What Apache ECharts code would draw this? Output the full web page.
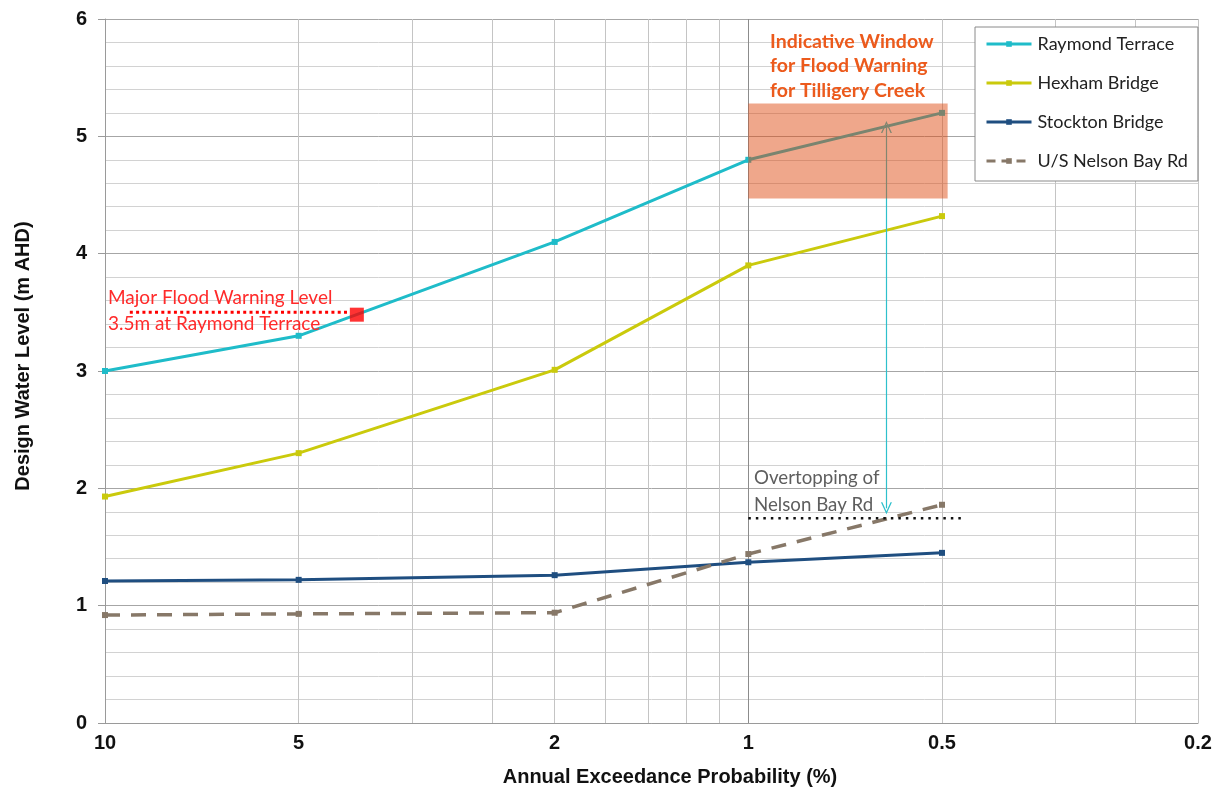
<!DOCTYPE html>
<html>
<head>
<meta charset="utf-8">
<title>Design Water Levels</title>
<script src="https://cdn.jsdelivr.net/npm/echarts@6/dist/echarts.min.js"></script>
<style>
	html, body { margin: 0; padding: 0; background: #fff; }
	#chart { width: 1218px; height: 792px; }
</style>
</head>
<body>
<div id="chart"></div>
<script>
// x values: annual exceedance probability (%)
const aep = [10, 5, 2, 1, 0.5];
const raymondTerrace = [3.0, 3.3, 4.1, 4.8, 5.2];
const hexhamBridge = [1.93, 2.3, 3.01, 3.9, 4.32];
const stocktonBridge = [1.21, 1.22, 1.26, 1.37, 1.45];
const nelsonBayRd = [0.92, 0.93, 0.94, 1.44, 1.86];

const xTickLabels = [10, 5, 2, 1, 0.5, 0.2];
// gridlines sit at 1 in N year events
const ariGrid = [10, 20, 30, 40, 50, 60, 70, 80, 90, 100, 200, 300, 400, 500];

// annotations
const warningLevel = 3.5;
const warningLineX = [9.15, 4.2];
const warningPoint = [4.06, 3.48];
const overtopLevel = 1.745;
const overtopLineX = [1.0, 0.462];
const windowX = [1.0, 0.49];
const windowY = [4.47, 5.28];
const arrowX = 0.61;
const arrowY = [5.08, 1.83];

const names = ['Raymond Terrace', 'Hexham Bridge', 'Stockton Bridge', 'U/S Nelson Bay Rd'];
const colors = ['#1FBCC9', '#CACA0C', '#1F4E80', '#877868'];
const values = [raymondTerrace, hexhamBridge, stocktonBridge, nelsonBayRd];

const pair = arr => aep.map((x, i) => [x, arr[i]]);
const chevron = 'path://M0,10 L5,0 L10,10 L8.7,10 L5,2.6 L1.3,10 Z';
const textFont = 'Lato, "Open Sans", sans-serif';
const axisFont = '"Liberation Sans", Arial, sans-serif';

var chartDom = document.getElementById('chart');
var myChart = echarts.init(chartDom, null, { renderer: 'canvas' });

var series = names.map((name, i) => ({
	name: name,
	type: 'line',
	data: pair(values[i]),
	symbol: 'rect',
	symbolSize: 6,
	z: 2,
	itemStyle: { color: colors[i] },
	lineStyle: {
		width: i === 3 ? 3.5 : 3,
		color: colors[i],
		type: i === 3 ? [15, 11] : 'solid'
	},
	emphasis: { disabled: true }
}));

// red dotted warning line, also carries the darker 1% gridline
series.push({
	name: 'warning',
	type: 'line',
	data: warningLineX.map(x => [x, warningLevel]),
	symbol: 'none',
	z: 3,
	lineStyle: { color: '#FF0000', width: 3, type: [3, 3.3] },
	markLine: {
		silent: true,
		z: 1,
		symbol: 'none',
		label: { show: false },
		lineStyle: { color: '#8C8C8C', width: 1, type: 'solid' },
		data: [{ xAxis: 1 }]
	}
});

// black dotted overtopping line, carries the double arrow
series.push({
	name: 'overtop',
	type: 'line',
	data: overtopLineX.map(x => [x, overtopLevel]),
	symbol: 'none',
	z: 3,
	lineStyle: { color: '#111', width: 2.5, type: [2.5, 5] },
	markLine: {
		silent: true,
		z: 4,
		symbol: [chevron, chevron],
		symbolSize: [11, 12],
		label: { show: false },
		lineStyle: { color: '#2EC0CC', width: 1.2, type: 'solid' },
		data: [[{ coord: [arrowX, arrowY[0]] }, { coord: [arrowX, arrowY[1]] }]]
	}
});

// indicative window box
series.push({
	name: 'window',
	type: 'custom',
	z: 6,
	silent: true,
	encode: { x: [0, 1], y: [2, 3] },
	data: [[windowX[0], windowX[1], windowY[0], windowY[1]]],
	renderItem: (params, api) => {
		var a = api.coord([api.value(0), api.value(3)]);
		var b = api.coord([api.value(1), api.value(2)]);
		return {
			type: 'rect',
			shape: {
				x: Math.min(a[0], b[0]),
				y: Math.min(a[1], b[1]),
				width: Math.abs(b[0] - a[0]),
				height: Math.abs(b[1] - a[1])
			},
			style: { fill: 'rgba(222, 72, 12, 0.48)' }
		};
	}
});

series.push({
	name: 'warningPoint',
	type: 'scatter',
	data: [warningPoint],
	symbol: 'rect',
	symbolSize: 14,
	z: 7,
	itemStyle: { color: '#FF0000' }
});

var option = {
	animation: false,
	textStyle: { fontFamily: axisFont },
	grid: {
		left: 105,
		right: 20,
		top: 19,
		bottom: 69,
		containLabel: false
	},
	legend: {
		data: names.map((name, i) => ({
			name: name,
			lineStyle: { width: 3, type: i === 3 ? [9, 6] : 'solid' }
		})),
		orient: 'vertical',
		left: 975,
		top: 27,
		padding: [8, 10, 11, 10],
		itemWidth: 45,
		itemHeight: 7,
		itemGap: 21,
		backgroundColor: '#fff',
		borderColor: '#8A8A8A',
		borderWidth: 1,
		borderRadius: 0,
		selectedMode: false,
		textStyle: { fontFamily: textFont, fontSize: 18, color: '#222', padding: [0, 0, 0, 1] }
	},
	xAxis: {
		type: 'log',
		logBase: 10,
		inverse: true,
		min: 0.2,
		max: 10,
		name: 'Annual Exceedance Probability (%)',
		nameLocation: 'middle',
		nameGap: 44,
		nameTextStyle: { fontFamily: axisFont, fontSize: 20, fontWeight: 'bold', color: '#111', padding: [0, 0, 0, 37] },
		axisLine: { show: true, lineStyle: { color: '#9A9A9A', width: 1 } },
		axisTick: { show: false, customValues: ariGrid.map(n => 100 / n) },
		axisLabel: {
			customValues: xTickLabels,
			formatter: v => String(Math.round(v * 10) / 10),
			fontFamily: axisFont,
			fontSize: 20,
			fontWeight: 'bold',
			color: '#111',
			margin: 10
		},
		splitLine: { show: true, lineStyle: { color: '#C4C4C4', width: 1 } },
		minorSplitLine: { show: false }
	},
	yAxis: {
		type: 'value',
		min: 0,
		max: 6,
		interval: 1,
		name: 'Design Water Level (m AHD)',
		nameLocation: 'middle',
		nameGap: 72,
		nameTextStyle: { fontFamily: axisFont, fontSize: 20, fontWeight: 'bold', color: '#111', padding: [0, 0, 0, 30] },
		axisLine: { show: true, lineStyle: { color: '#9A9A9A', width: 1 } },
		axisTick: { show: true, length: 7, lineStyle: { color: '#9A9A9A' } },
		axisLabel: {
			fontFamily: axisFont,
			fontSize: 20,
			fontWeight: 'bold',
			color: '#111',
			margin: 18
		},
		splitLine: { show: true, lineStyle: { color: '#A6A6A6', width: 1 } },
		minorTick: { show: false, splitNumber: 5 },
		minorSplitLine: { show: true, lineStyle: { color: '#D2D2D2', width: 1 } }
	},
	graphic: [
		{
			type: 'text',
			left: 770,
			top: 29,
			z: 100,
			style: {
				text: 'Indicative Window\nfor Flood Warning\nfor Tilligery Creek',
				font: 'bold 19.5px ' + textFont,
				fill: '#EC5A1C',
				lineHeight: 24.5
			}
		},
		{
			type: 'text',
			left: 108,
			top: 285,
			z: 100,
			style: {
				text: 'Major Flood Warning Level\n3.5m at Raymond Terrace',
				font: '19px ' + textFont,
				fill: '#FF2A2A',
				lineHeight: 26
			}
		},
		{
			type: 'text',
			left: 754,
			top: 464,
			z: 100,
			style: {
				text: 'Overtopping of\nNelson Bay Rd',
				font: '18.7px ' + textFont,
				fill: '#5E5E5E',
				lineHeight: 27
			}
		}
	],
	series: series
};

option && myChart.setOption(option);
</script>
</body>
</html>
